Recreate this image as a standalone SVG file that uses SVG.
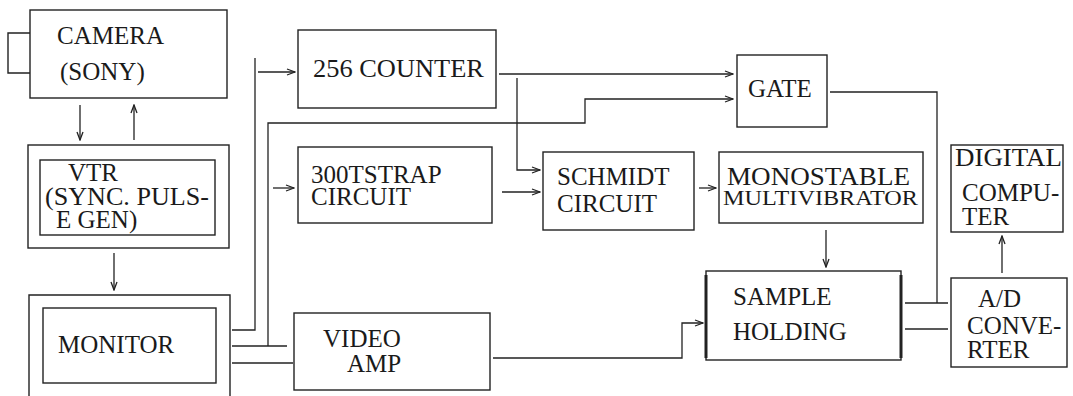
<svg xmlns="http://www.w3.org/2000/svg" width="1073" height="396" viewBox="0 0 1073 396">
<style>
  .box { fill: none; stroke: #222; stroke-width: 1.4; }
  .thick { fill: none; stroke: #222; stroke-width: 3; }
  .ln { fill: none; stroke: #222; stroke-width: 1.3; }
  text { font-family: 'Liberation Serif', 'DejaVu Serif', 'Noto Serif', serif; font-size: 25px; fill: #1a1a1a; }
  .s { font-size: 22px; }
</style>
<defs>
  <marker id="ah" viewBox="0 0 10 8" refX="9" refY="4" markerWidth="10" markerHeight="8" markerUnits="userSpaceOnUse" orient="auto">
    <path d="M1,1 L9,4 L1,7" fill="none" stroke="#222" stroke-width="1.3"/>
  </marker>
</defs>
<rect width="1073" height="396" fill="#ffffff"/>

<g id="camera">
  <rect class="box" x="30" y="10" width="197" height="88"/>
  <path class="box" d="M30,33 H8 V73 H30"/>
  <text x="57" y="44">CAMERA</text>
  <text x="60" y="80">(SONY)</text>
</g>

<g id="vtr">
  <rect class="box" x="28" y="145" width="201" height="103"/>
  <rect class="box" x="40" y="160" width="175" height="75"/>
  <text x="68" y="181">VTR</text>
  <text x="45" y="205" textLength="164" lengthAdjust="spacingAndGlyphs">(SYNC. PULS-</text>
  <text x="56" y="228">E GEN)</text>
</g>

<g id="monitor">
  <path class="box" d="M29,400 V295 H230 V400"/>
  <rect class="box" x="43" y="308" width="173" height="75"/>
  <text x="58" y="353">MONITOR</text>
</g>

<g id="counter">
  <rect class="box" x="298" y="30" width="198" height="78"/>
  <text x="313" y="77" textLength="171" lengthAdjust="spacingAndGlyphs">256 COUNTER</text>
</g>

<g id="bootstrap">
  <rect class="box" x="298" y="147" width="194" height="76"/>
  <text x="311" y="183">300TSTRAP</text>
  <text x="311" y="205">CIRCUIT</text>
</g>

<g id="videoamp">
  <rect class="box" x="294" y="313" width="196" height="77"/>
  <text x="323" y="347">VIDEO</text>
  <text x="347" y="372">AMP</text>
</g>

<g id="gate">
  <rect class="box" x="737" y="55" width="90" height="72"/>
  <text x="748" y="97">GATE</text>
</g>

<g id="schmidt">
  <rect class="box" x="543" y="152" width="151" height="78"/>
  <text x="557" y="185">SCHMIDT</text>
  <text x="557" y="212">CIRCUIT</text>
</g>

<g id="monostable">
  <rect class="box" x="719" y="152" width="204" height="71"/>
  <text x="727" y="185" textLength="183" lengthAdjust="spacingAndGlyphs">MONOSTABLE</text>
  <text class="s" x="723" y="205" textLength="195" lengthAdjust="spacingAndGlyphs">MULTIVIBRATOR</text>
</g>

<g id="sample">
  <rect class="box" x="706" y="271" width="195" height="89"/>
  <line class="thick" x1="706" y1="275" x2="706" y2="358"/>
  <line class="thick" x1="901" y1="275" x2="901" y2="358"/>
  <text x="733" y="305">SAMPLE</text>
  <text x="733" y="340">HOLDING</text>
</g>

<g id="adconv">
  <rect class="box" x="951" y="278" width="116" height="89"/>
  <text x="978" y="307">A/D</text>
  <text x="967" y="334">CONVE-</text>
  <text x="967" y="358">RTER</text>
</g>

<g id="digital">
  <rect class="box" x="951" y="145" width="112" height="87"/>
  <text x="955" y="166" textLength="107" lengthAdjust="spacingAndGlyphs">DIGITAL</text>
  <text x="962" y="201">COMPU-</text>
  <text x="962" y="225">TER</text>
</g>

<g id="connectors">
  <line class="ln" x1="80" y1="105" x2="80" y2="140" marker-end="url(#ah)"/>
  <line class="ln" x1="134" y1="140" x2="134" y2="105" marker-end="url(#ah)"/>
  <line class="ln" x1="114" y1="253" x2="114" y2="290" marker-end="url(#ah)"/>
  <path class="ln" d="M232,330 H255 V58"/>
  <line class="ln" x1="258" y1="72" x2="295" y2="72" marker-end="url(#ah)"/>
  <path class="ln" d="M232,346 H287"/>
  <path class="ln" d="M268,346 V123 H585 V99 H733" marker-end="url(#ah)"/>
  <line class="ln" x1="273" y1="188" x2="294" y2="188" marker-end="url(#ah)"/>
  <line class="ln" x1="232" y1="363" x2="293" y2="363"/>
  <path class="ln" d="M499,74 H733" marker-end="url(#ah)"/>
  <path class="ln" d="M517,78 V170 H540" marker-end="url(#ah)"/>
  <line class="ln" x1="502" y1="192" x2="540" y2="192" marker-end="url(#ah)"/>
  <line class="ln" x1="699" y1="188" x2="716" y2="188" marker-end="url(#ah)"/>
  <line class="ln" x1="826" y1="230" x2="826" y2="267" marker-end="url(#ah)"/>
  <path class="ln" d="M493,358 H682 V323 H703" marker-end="url(#ah)"/>
  <path class="ln" d="M830,92 H937 V303"/>
  <line class="ln" x1="905" y1="303" x2="948" y2="303"/>
  <line class="ln" x1="905" y1="329" x2="948" y2="329"/>
  <line class="ln" x1="1002" y1="273" x2="1002" y2="236" marker-end="url(#ah)"/>
</g>
</svg>
